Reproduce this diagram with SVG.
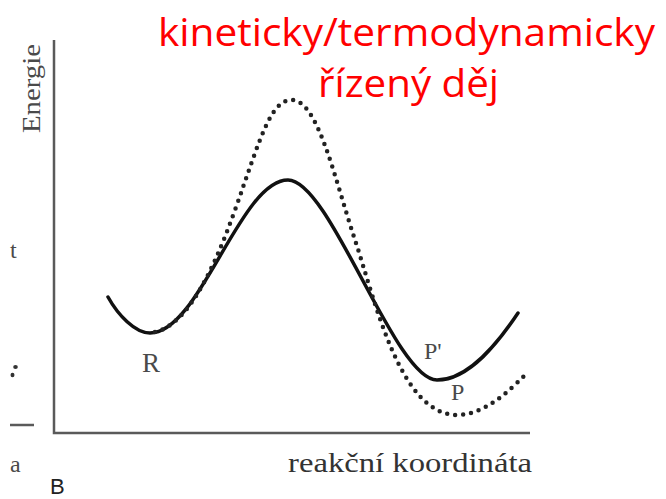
<svg xmlns="http://www.w3.org/2000/svg" width="666" height="499" viewBox="0 0 666 499">
<style>
.ser{font-family:"Liberation Serif","DejaVu Serif",serif;fill:#4a4a4a}
.title{font-family:"Open Sans","Noto Sans",sans-serif;fill:#ff0000;font-size:38px}
.axis{stroke:#5a5a5a;stroke-width:2.5;fill:none}
.solid{stroke:#111;stroke-width:3.5;fill:none;stroke-linecap:round}
.dot{stroke:#222;stroke-width:4.5;fill:none;stroke-linecap:round;stroke-dasharray:0 8}
</style>
<rect width="666" height="499" fill="#fff"/>
<g id="axes">
<path class="axis" d="M54,40 V433 H530"/>
<path class="axis" d="M10,425 H34"/>
</g>
<g id="labels">
<text class="ser" font-size="25" transform="translate(40,133) rotate(-90)" textLength="89" lengthAdjust="spacingAndGlyphs">Energie</text>
<text class="ser" font-size="24" x="10" y="258">t</text>
<ellipse cx="15.5" cy="367" rx="2.3" ry="2" fill="#333"/>
<ellipse cx="12.5" cy="375" rx="2" ry="2.3" fill="#333"/>
<text class="ser" font-size="24" x="10" y="472">a</text>
<text font-family="Liberation Sans, Arial, sans-serif" font-size="22" fill="#222" x="50" y="494">B</text>
<text class="ser" font-size="27" x="288" y="472" style="fill:#333" textLength="244" lengthAdjust="spacingAndGlyphs">reakční koordináta</text>
<text class="ser" font-size="27" x="142" y="372">R</text>
<text class="ser" font-size="24" x="424" y="359">P'</text>
<text class="ser" font-size="24" x="451" y="400">P</text>
</g>
<g id="title">
<text class="title" x="158" y="46" textLength="497" lengthAdjust="spacingAndGlyphs">kineticky/termodynamicky</text>
<text class="title" x="318" y="97" textLength="181" lengthAdjust="spacingAndGlyphs">řízený děj</text>
</g>
<g id="curves">
<path id="kinetic" class="solid" d="M108,297 C118,315 135,333 150,333 C200,333 240,180 288,180 C330,180 395,380 437,380 C470,380 500,340 518,313"/>
<path id="thermo" class="dot" d="M155,332 C185,325 210,280 235,210 C260,140 270,100 292,100 C318,100 335,180 355,240 C375,300 400,415 457,415 C485,415 510,390 527,373"/>
</g>
</svg>
